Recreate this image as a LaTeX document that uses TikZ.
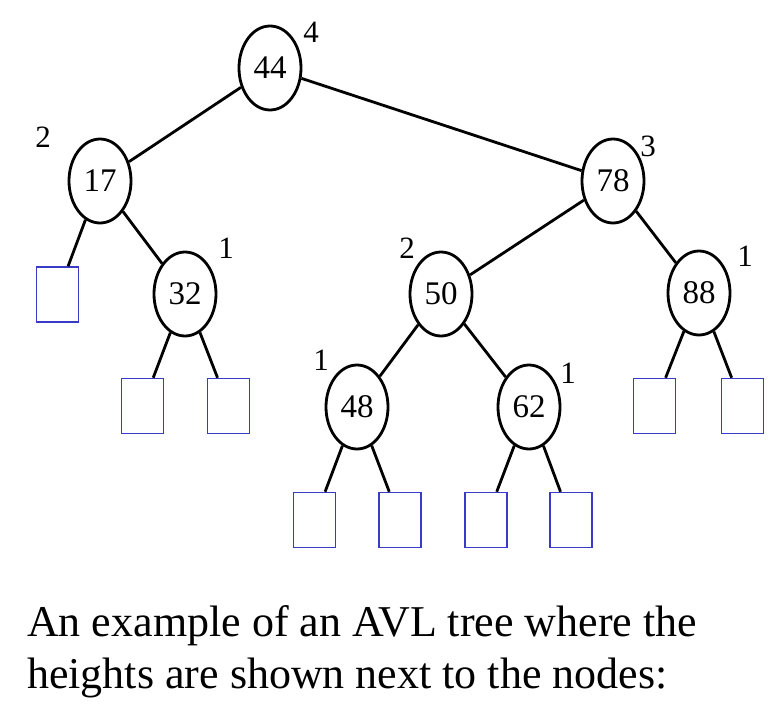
\documentclass[tikz,border=0pt]{standalone}
\usepackage{fontspec}
\setmainfont{Liberation Serif}
\usetikzlibrary{shapes.geometric}
\definecolor{leafblue}{RGB}{58,58,200}
\tikzset{
  x=1pt, y=-1pt,
  treenode/.style={ellipse, draw=black, line width=2.8pt, fill=white,
    minimum width=62pt, minimum height=84pt, inner sep=0pt,
    font=\fontsize{33}{33}\selectfont},
  leaf/.style={rectangle, draw=leafblue, line width=1.5pt, fill=white,
    minimum width=42pt, minimum height=55pt, inner sep=0pt},
  heightlabel/.style={inner sep=0pt, font=\fontsize{31}{31}\selectfont},
  edge/.style={line width=2.8pt, black},
  caption/.style={anchor=base west, inner sep=0pt,
    font=\fontsize{44}{52}\selectfont}
}
\begin{document}
\begin{tikzpicture}
\useasboundingbox (0,0) rectangle (777,709);

% internal nodes of the tree
\node[treenode] (n44) at (270,68)  {44};
\node[treenode] (n17) at (100,181) {17};
\node[treenode] (n78) at (613,181) {78};
\node[treenode] (n32) at (185,294) {32};
\node[treenode] (n50) at (441,294) {50};
\node[treenode] (n88) at (699,293) {88};
\node[treenode] (n48) at (357,407) {48};
\node[treenode] (n62) at (529,407) {62};

% external (empty) leaves
\node[leaf] (l17)  at (57.5,294.5) {};
\node[leaf] (l32a) at (142.5,406)  {};
\node[leaf] (l32b) at (228.5,406)  {};
\node[leaf] (l48a) at (314.5,520)  {};
\node[leaf] (l48b) at (400,520)    {};
\node[leaf] (l62a) at (486,520)    {};
\node[leaf] (l62b) at (571,520)    {};
\node[leaf] (l88a) at (654.5,406)  {};
\node[leaf] (l88b) at (742.5,406)  {};

% edges
\draw[edge] (n44) -- (n17);
\draw[edge] (n44) -- (n78);
\draw[edge] (n17) -- (l17);
\draw[edge] (n17) -- (n32);
\draw[edge] (n32) -- (l32a);
\draw[edge] (n32) -- (l32b);
\draw[edge] (n78) -- (n50);
\draw[edge] (n78) -- (n88);
\draw[edge] (n50) -- (n48);
\draw[edge] (n50) -- (n62);
\draw[edge] (n48) -- (l48a);
\draw[edge] (n48) -- (l48b);
\draw[edge] (n62) -- (l62a);
\draw[edge] (n62) -- (l62b);
\draw[edge] (n88) -- (l88a);
\draw[edge] (n88) -- (l88b);

% heights
\node[heightlabel] (h44) at (311,32)  {4};
\node[heightlabel] (h17) at (43,137)  {2};
\node[heightlabel] (h78) at (648,146) {3};
\node[heightlabel] (h32) at (226,248) {1};
\node[heightlabel] (h50) at (407,248) {2};
\node[heightlabel] (h88) at (745,256) {1};
\node[heightlabel] (h48) at (321,360) {1};
\node[heightlabel] (h62) at (568,373) {1};

% caption
\node[caption] (cap1) at (27,636) {An example of an AVL tree where the};
\node[caption] (cap2) at (27,688) {heights are shown next to the nodes:};
\end{tikzpicture}
\end{document}
